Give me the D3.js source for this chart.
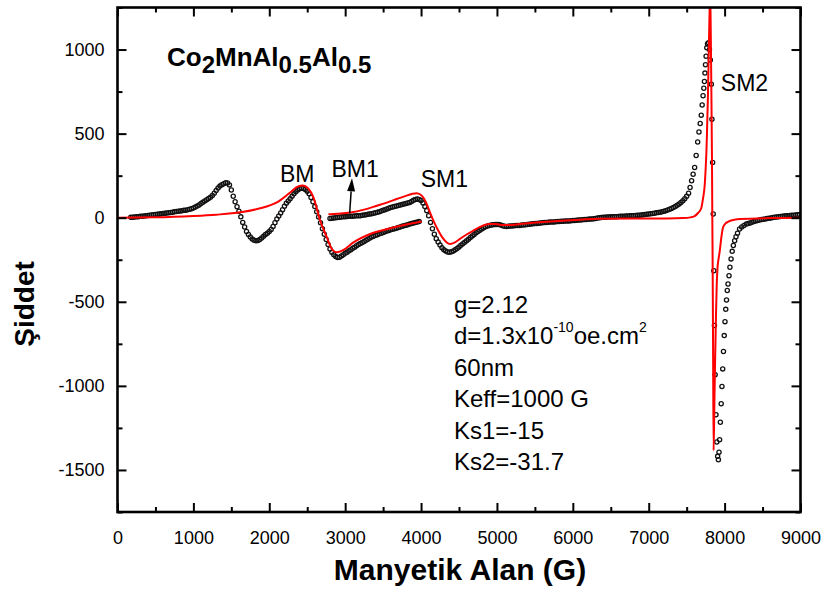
<!DOCTYPE html>
<html>
<head>
<meta charset="utf-8">
<script src="https://cdn.jsdelivr.net/npm/d3@7"></script>
<style>
  html, body { margin: 0; padding: 0; background: #fff; }
  svg { display: block; font-family: "Liberation Sans", Arial, sans-serif; }
</style>
</head>
<body>
<svg id="chart" width="826" height="593"></svg>
<script>
// ---- axis ticks ----
const xMajorTicks = [0, 1000, 2000, 3000, 4000, 5000, 6000, 7000, 8000, 9000];
const xMinorTicks = [500, 1500, 2500, 3500, 4500, 5500, 6500, 7500, 8500];
const yMajorTicks = [-1500, -1000, -500, 0, 500, 1000];
const yMinorTicks = [-1750, -1250, -750, -250, 250, 750, 1250];

// ---- measured spectrum, low-field sweep (field grid: start + i*step, G) ----
const sweepAStart = 175, sweepAStep = 25;
const sweepA = [
  2, 3, 4, 5, 6, 8, 9, 10, 12, 13, 15, 16, 18, 19, 20, 22, 23, 25, 26, 28,
  30, 31, 33, 35, 37, 38, 40, 42, 44, 45, 47, 50, 54, 58, 63, 69, 76, 84, 92, 100,
  107, 114, 121, 132, 146, 162, 176, 188, 196, 202, 208, 207, 195, 165, 128, 95, 65, 38, 5, -28,
  -55, -82, -100, -115, -127, -134, -137, -136, -130, -121, -111, -100, -92, -82, -70, -52, -30, -8, 10, 28,
  48, 68, 86, 100, 112, 127, 142, 155, 165, 172, 176, 174, 168, 158, 143, 120, 95, 66, 35, 4,
  -30, -65, -98, -130, -160, -186, -206, -220, -230, -236, -235, -228, -220, -212, -205, -197, -190, -182, -175, -167,
  -160, -154, -147, -141, -134, -128, -121, -115, -110, -105, -101, -96, -92, -88, -84, -79, -76, -72, -69, -65,
  -62, -58, -55, -51, -48, -45, -42, -38, -35, -32, -29, -26, -23
];

// ---- measured spectrum, second sweep (field grid: start + i*step, G) ----
const sweepBStart = 2800, sweepBStep = 25;
const sweepB = [
  -4, -3, -2, 0, 1, 3, 4, 6, 6, 7, 8, 8, 9, 10, 11, 11, 12, 14, 16, 18,
  20, 22, 24, 27, 30, 32, 36, 40, 44, 48, 52, 56, 60, 64, 67, 70, 73, 76, 79, 82,
  85, 88, 91, 97, 104, 109, 111, 108, 102, 88, 66, 42, 12, -28, -66, -98, -125, -145, -163, -178,
  -190, -198, -204, -206, -203, -198, -191, -183, -174, -164, -155, -146, -137, -128, -118, -109, -100, -90, -82, -74,
  -67, -60, -54, -49, -46, -44, -42, -40, -40, -41, -44, -48, -51, -52, -51, -50, -49, -48, -47, -47,
  -46, -44, -43, -42, -40, -39, -37, -36, -35, -34, -33, -32, -30, -29, -28, -27, -26, -26, -25, -24,
  -23, -22, -21, -21, -20, -19, -19, -18, -17, -16, -15, -14, -13, -12, -11, -10, -9, -8, -7, -6,
  -4, -2, 0, 1, 2, 3, 4, 4, 5, 5, 6, 6, 7, 8, 8, 9, 10, 10, 11, 11,
  12, 13, 14, 15, 16, 17, 19, 20, 22, 23, 25, 27, 29, 31, 33, 36, 39, 42, 46, 50,
  55, 61, 67, 74, 82, 91, 101, 113, 127, 145
];

// ---- measured spectrum across the SM2 resonance and high-field tail: [field G, intensity] ----
const sm2Points = [
  [7545, 180], [7565, 220], [7585, 258], [7605, 299], [7625, 370], [7645, 450], [7662, 510],
  [7678, 560], [7692, 610], [7704, 670], [7716, 725], [7726, 770], [7734, 810], [7741, 860],
  [7748, 910], [7756, 960], [7765, 1010], [7775, 1035], [7788, 1040], [7800, 1000], [7812, 938],
  [7825, 794], [7833, 586], [7842, 328], [7850, 22], [7858, -315], [7866, -641], [7875, -934],
  [7886, -1172], [7897, -1334], [7908, -1419], [7918, -1439], [7926, -1394], [7934, -1320],
  [7944, -1216], [7955, -1106], [7965, -1004], [7975, -899], [7985, -796], [7995, -701],
  [8005, -618], [8015, -545], [8025, -489], [8035, -433], [8045, -394], [8058, -345],
  [8070, -295], [8085, -245], [8100, -200], [8115, -165], [8132, -137], [8150, -113],
  [8170, -92], [8197, -67], [8225, -55], [8255, -46], [8286, -38], [8310, -35], [8335, -31],
  [8360, -27], [8385, -23], [8410, -19], [8435, -16], [8460, -13], [8485, -11], [8510, -9],
  [8535, -7], [8560, -5], [8585, -3], [8610, -1], [8635, 1], [8660, 3], [8685, 4], [8710, 6],
  [8735, 7], [8760, 8], [8785, 10], [8810, 11], [8835, 12], [8860, 13], [8885, 14], [8910, 15],
  [8935, 16], [8960, 17], [8985, 19]
];

// ---- fitted curves: [field G, intensity] ----
const fitBM = [
  [0, 0], [500, 2], [1000, 10], [1300, 18], [1620, 32], [1880, 56], [2100, 91], [2276, 150],
  [2386, 188], [2440, 192], [2500, 180], [2583, 120], [2671, -18], [2759, -117], [2825, -186],
  [2891, -206], [2978, -192], [3109, -147], [3329, -97], [3636, -58], [3943, -28], [4009, -22]
];
const fitSM = [
  [2780, 20], [2900, 24], [3066, 31], [3250, 48], [3417, 71], [3550, 90], [3680, 111], [3800, 130],
  [3878, 141], [3943, 146], [3990, 138], [4030, 120], [4075, 80], [4118, 31], [4170, -25],
  [4228, -77], [4285, -120], [4338, -147], [4382, -156], [4440, -148], [4513, -126], [4600, -100],
  [4688, -77], [4800, -50], [4900, -38], [4980, -38], [5060, -43], [5150, -44], [5303, -38],
  [5450, -31], [5654, -24], [5850, -18], [6092, -12], [6355, -6], [6800, -5], [7233, -4],
  [7450, -2], [7550, 2], [7600, 8], [7650, 28], [7693, 58], [7714, 110], [7737, 190], [7750, 290],
  [7759, 378], [7767, 490], [7780, 720], [7793, 1030], [7803, 1250], [7810, 1330], [7816, 1170],
  [7825, 774], [7833, 378], [7838, 0], [7842, -255], [7848, -780], [7855, -1384], [7866, -1080],
  [7876, -820], [7886, -590], [7896, -400], [7906, -300], [7920, -245], [7934, -205], [7957, -117],
  [7978, -60], [8010, -35], [8043, -25], [8100, -15], [8200, -8], [8600, -2], [9000, 0]
];

// ---- annotations ----
const peakLabels = [
  { text: "BM", field: 2140, value: 215 },
  { text: "BM1", field: 2820, value: 245 },
  { text: "SM1", field: 3995, value: 180 },
  { text: "SM2", field: 7950, value: 755 }
];
const arrowFrom = [3059, 26], arrowTo = [3090, 234];
const paramLines = ["g=2.12", "d=1.3x10", "60nm", "Keff=1000 G", "Ks1=-15", "Ks2=-31.7"];

// ---- layout ----
const svg = d3.select("#chart");
const plotLeft = 117.5, plotRight = 800.5, plotTop = 7.5, plotBottom = 512;
const x = d3.scaleLinear().domain([0, 9000]).range([plotLeft, plotRight]);
const y = d3.scaleLinear().domain([-1750, 1250]).range([plotBottom, plotTop]);

svg.append("defs").append("clipPath").attr("id", "plotClip")
  .append("rect").attr("x", plotLeft).attr("y", plotTop)
  .attr("width", plotRight - plotLeft).attr("height", plotBottom - plotTop);

// assemble measured points
const measured = [];
sweepA.forEach((v, i) => measured.push([sweepAStart + i * sweepAStep, v]));
sweepB.forEach((v, i) => measured.push([sweepBStart + i * sweepBStep, v]));
sm2Points.forEach(p => measured.push(p));

const plot = svg.append("g").attr("clip-path", "url(#plotClip)");

// open-circle data markers
plot.append("g").selectAll("circle").data(measured).join("circle")
  .attr("cx", d => x(d[0])).attr("cy", d => y(d[1])).attr("r", 2.1)
  .attr("fill", "none").attr("stroke", "#111").attr("stroke-width", 1.3);

// fitted lines
const line = d3.line().x(d => x(d[0])).y(d => y(d[1])).curve(d3.curveMonotoneX);
[fitBM, fitSM].forEach(f => {
  plot.append("path").datum(f).attr("d", line)
    .attr("fill", "none").attr("stroke", "#ff0000").attr("stroke-width", 2);
});

// axes with inward ticks
const fmt = d => String(d);
function styleAxis(g) {
  g.select(".domain").remove();
  g.selectAll(".tick line").attr("stroke", "#000").attr("stroke-width", 2);
  g.selectAll(".tick text").attr("fill", "#000").attr("font-size", 18)
    .attr("font-family", "'Liberation Sans', Arial, sans-serif");
}
const major = 9, minor = 5;
svg.append("g").attr("transform", `translate(0,${plotBottom})`)
  .call(d3.axisBottom(x).tickValues(xMajorTicks).tickFormat(fmt).tickSize(-major).tickPadding(19))
  .call(styleAxis);
svg.append("g").attr("transform", `translate(0,${plotBottom})`)
  .call(d3.axisBottom(x).tickValues(xMinorTicks).tickFormat("").tickSize(-minor)).call(styleAxis);
svg.append("g").attr("transform", `translate(0,${plotTop})`)
  .call(d3.axisTop(x).tickValues(xMajorTicks).tickFormat("").tickSize(-major)).call(styleAxis);
svg.append("g").attr("transform", `translate(0,${plotTop})`)
  .call(d3.axisTop(x).tickValues(xMinorTicks).tickFormat("").tickSize(-minor)).call(styleAxis);
svg.append("g").attr("transform", `translate(${plotLeft},0)`)
  .call(d3.axisLeft(y).tickValues(yMajorTicks).tickFormat(fmt).tickSize(-major).tickPadding(13))
  .call(styleAxis);
svg.append("g").attr("transform", `translate(${plotLeft},0)`)
  .call(d3.axisLeft(y).tickValues(yMinorTicks).tickFormat("").tickSize(-minor)).call(styleAxis);
svg.append("g").attr("transform", `translate(${plotRight},0)`)
  .call(d3.axisRight(y).tickValues(yMajorTicks).tickFormat("").tickSize(-major)).call(styleAxis);
svg.append("g").attr("transform", `translate(${plotRight},0)`)
  .call(d3.axisRight(y).tickValues(yMinorTicks).tickFormat("").tickSize(-minor)).call(styleAxis);

// frame
svg.append("rect").attr("x", plotLeft).attr("y", plotTop)
  .attr("width", plotRight - plotLeft).attr("height", plotBottom - plotTop)
  .attr("fill", "none").attr("stroke", "#000").attr("stroke-width", 2.6);

// axis titles
svg.append("text").attr("x", 460).attr("y", 580).attr("text-anchor", "middle")
  .attr("font-size", 30).attr("font-weight", "bold").text("Manyetik Alan (G)");
svg.append("text").attr("transform", "translate(34,304) rotate(-90)").attr("text-anchor", "middle")
  .attr("font-size", 28).attr("font-weight", "bold").text("Şiddet");

// sample formula
const title = svg.append("text").attr("x", 167).attr("y", 66).attr("font-size", 26).attr("font-weight", "bold");
[["Co", 0], ["2", 1], ["MnAl", -1], ["0.5", 1], ["Al", -1], ["0.5", 1]].forEach(([t, s]) => {
  const ts = title.append("tspan").text(t);
  if (s !== 0) ts.attr("dy", s * 7);
  if (s === 1) ts.attr("font-size", 24);
});

// peak labels
svg.append("g").selectAll("text").data(peakLabels).join("text")
  .attr("x", d => x(d.field)).attr("y", d => y(d.value))
  .attr("font-size", 23).text(d => d.text);

// arrow pointing at BM1
const ax0 = x(arrowFrom[0]), ay0 = y(arrowFrom[1]), ax1 = x(arrowTo[0]), ay1 = y(arrowTo[1]);
const ang = Math.atan2(ay1 - ay0, ax1 - ax0), headLen = 13, headW = 4;
const bx = ax1 - headLen * Math.cos(ang), by = ay1 - headLen * Math.sin(ang);
svg.append("line").attr("x1", ax0).attr("y1", ay0).attr("x2", bx).attr("y2", by)
  .attr("stroke", "#000").attr("stroke-width", 1.5);
svg.append("path")
  .attr("d", `M${ax1},${ay1} L${bx + headW * Math.sin(ang)},${by - headW * Math.cos(ang)} L${bx - headW * Math.sin(ang)},${by + headW * Math.cos(ang)} Z`)
  .attr("fill", "#000");

// fit parameters
const params = svg.append("g").attr("font-size", 24);
paramLines.forEach((t, i) => {
  const tx = params.append("text").attr("x", 454).attr("y", 313 + i * 31.4).text(t);
  if (t.startsWith("d=")) {
    tx.append("tspan").attr("dy", -12).attr("font-size", 14).text("-10");
    tx.append("tspan").attr("dy", 12).text("oe.cm");
    tx.append("tspan").attr("dy", -12).attr("font-size", 14).text("2");
  }
});
</script>
</body>
</html>
